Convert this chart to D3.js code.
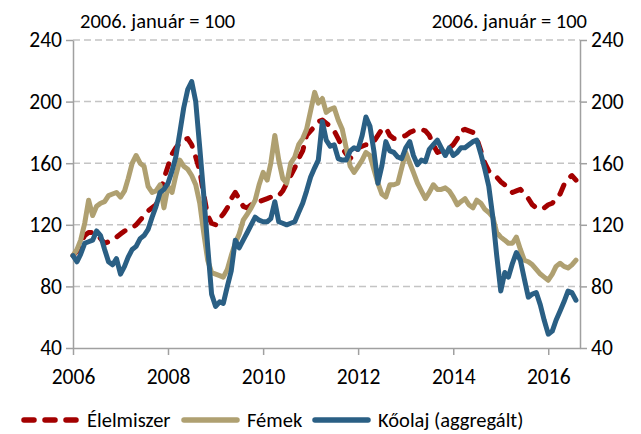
<!DOCTYPE html>
<html>
<head>
<meta charset="utf-8">
<script src="https://cdn.jsdelivr.net/npm/d3@7"></script>
<style>
    body { margin: 0; background: #fff; }
    svg text { font-family: Carlito, Calibri, Lato, sans-serif; fill: #000; }
</style>
</head>
<body>
<svg id="grafikon" width="641" height="434"></svg>
<script>
//havi adatok, 2006. január = 100 (2006.01 - 2016.08)
var kezdoEv = 2006;

var elelmiszer = [100, 103, 108, 113, 115, 115, 114, 111, 108, 109, 110, 112,
    114, 116, 117, 118, 120, 123, 126, 129, 131, 133, 140, 150,
    158, 166, 170, 173, 175, 176, 172, 164, 155, 140, 126, 121,
    120, 124, 127, 131, 137, 141, 137, 132, 131, 133, 134, 135,
    136, 137, 138, 138, 139, 142, 147, 152, 157, 163, 168, 178,
    181, 184, 187, 188, 186, 184, 181, 176, 170, 166, 163, 166,
    170, 171, 172, 172, 174, 178, 182, 183, 178, 176, 176, 177,
    178, 180, 181, 182, 182, 181, 178, 172, 167, 168, 169, 170,
    172, 176, 181, 182, 181, 180, 176, 168, 160, 155, 153, 151,
    148, 146, 143, 141, 142, 143, 140, 137, 133, 131, 130, 131,
    133, 134, 137, 140, 146, 150, 152, 149];

var femek = [100, 104, 110, 121, 136, 126, 132, 134, 135, 139, 140, 141,
    138, 142, 150, 160, 165, 160, 158, 145, 141, 142, 146, 131,
    145, 141, 152, 162, 158, 156, 152, 146, 134, 115, 97, 89,
    88, 87, 86, 91, 100, 108, 114, 123, 127, 131, 136, 146,
    154, 149, 160, 178, 162, 150, 147, 160, 164, 172, 176, 182,
    194, 206, 199, 202, 193, 195, 196, 188, 182, 170, 158, 154,
    158, 162, 167, 165, 156, 147, 140, 138, 146, 146, 147, 157,
    167, 160, 154, 147, 142, 137, 141, 146, 143, 143, 144, 142,
    138, 133, 135, 137, 133, 131, 136, 134, 130, 128, 125, 115,
    112, 110, 108, 108, 112, 104, 97, 96, 94, 91, 88, 86,
    84, 88, 93, 95, 93, 92, 94, 97];

var koolaj = [100, 96, 101, 108, 109, 110, 116, 113, 104, 96, 94, 98,
    88, 93, 99, 104, 106, 111, 113, 117, 125, 132, 141, 143,
    147, 155, 164, 180, 196, 208, 213, 200, 170, 140, 106, 75,
    67, 70, 69, 80, 90, 110, 105, 110, 115, 120, 125, 123,
    122, 122, 124, 135, 122, 121, 120, 121, 122, 128, 134, 142,
    151, 157, 162, 187, 175, 171, 172, 163, 162, 162, 168, 170,
    169, 178, 190, 184, 168, 147, 158, 174, 168, 167, 164, 163,
    170, 174, 165, 159, 162, 161, 169, 172, 175, 170, 165, 170,
    165, 167, 170, 170, 172, 174, 175, 166, 156, 145, 125, 100,
    77, 89, 86, 95, 102, 97, 85, 73, 75, 76, 68, 58,
    49, 51, 58, 64, 70, 77, 76, 71];

var evek = [2006, 2008, 2010, 2012, 2014, 2016];
var yErtekek = [40, 80, 120, 160, 200, 240];
var felirat = "2006. január = 100";
var nevek = ["Élelmiszer", "Fémek", "Kőolaj (aggregált)"];

var szinek = ["#A30000", "#AFA071", "#2A5F84"];

var svg = d3.select("#grafikon");
var bal = 73, jobb = 580, fent = 40, lent = 348;

//skalak
var x = d3.scaleTime()
    .domain([new Date(kezdoEv, 0, 1), new Date(2016, 8, 1)])
    .range([bal, jobb]);
var y = d3.scaleLinear().domain([40, 240]).range([lent, fent]);

function datum(i) { return new Date(kezdoEv, i, 1); }

//racsvonalak (szaggatott)
svg.append("g").selectAll("line")
    .data(yErtekek.filter(function (v) { return v > 40; }))
    .enter().append("line")
    .attr("x1", bal).attr("x2", jobb)
    .attr("y1", function (d) { return y(d); })
    .attr("y2", function (d) { return y(d); })
    .attr("stroke", "#c4c4c4")
    .attr("stroke-width", 1.5)
    .attr("stroke-dasharray", "7,4");

//tengelyek
function tengelyStilus(g) {
    g.selectAll("path.domain").attr("stroke", "#a0a0a0").attr("stroke-width", 1.5);
    g.selectAll(".tick line").attr("stroke", "#a0a0a0").attr("stroke-width", 1.5);
    g.selectAll("text").attr("font-size", 21.5).attr("font-family", null);
}

svg.append("g")
    .attr("transform", "translate(" + bal + ",0)")
    .call(d3.axisLeft(y).tickValues(yErtekek).tickSize(7).tickSizeOuter(0).tickPadding(4))
    .call(tengelyStilus);

svg.append("g")
    .attr("transform", "translate(" + jobb + ",0)")
    .call(d3.axisRight(y).tickValues(yErtekek).tickSize(7).tickSizeOuter(0).tickPadding(4))
    .call(tengelyStilus);

svg.append("g")
    .attr("transform", "translate(0," + lent + ")")
    .call(d3.axisBottom(x)
        .tickValues(evek.map(function (e) { return new Date(e, 0, 1); }))
        .tickFormat(d3.timeFormat("%Y"))
        .tickSize(7).tickSizeOuter(0).tickPadding(14))
    .call(tengelyStilus);

//vonalak
var vonal = d3.line()
    .x(function (d, i) { return x(datum(i)); })
    .y(function (d) { return y(d); });

[elelmiszer, femek, koolaj].forEach(function (sor, k) {
    svg.append("path")
        .attr("d", vonal(sor))
        .attr("fill", "none")
        .attr("stroke", szinek[k])
        .attr("stroke-width", 5)
        .attr("stroke-linejoin", "round")
        .attr("stroke-linecap", "round")
        .attr("stroke-dasharray", k == 0 ? "10,11" : null);
});

//feliratok fent
svg.append("text").attr("x", 80).attr("y", 28)
    .attr("font-size", 20.5).text(felirat);
svg.append("text").attr("x", 587).attr("y", 28)
    .attr("font-size", 20.5).attr("text-anchor", "end").text(felirat);

//jelmagyarazat
var jelX = [24, 184, 315];
var jel = svg.append("g");
nevek.forEach(function (n, k) {
    jel.append("line")
        .attr("x1", jelX[k]).attr("x2", jelX[k] + 53)
        .attr("y1", 420).attr("y2", 420)
        .attr("stroke", szinek[k])
        .attr("stroke-width", 5.5)
        .attr("stroke-linecap", "round")
        .attr("stroke-dasharray", k == 0 ? "10,11" : null);
    jel.append("text")
        .attr("x", jelX[k] + 63).attr("y", 427)
        .attr("font-size", 20.5)
        .text(n);
});
</script>
</body>
</html>
